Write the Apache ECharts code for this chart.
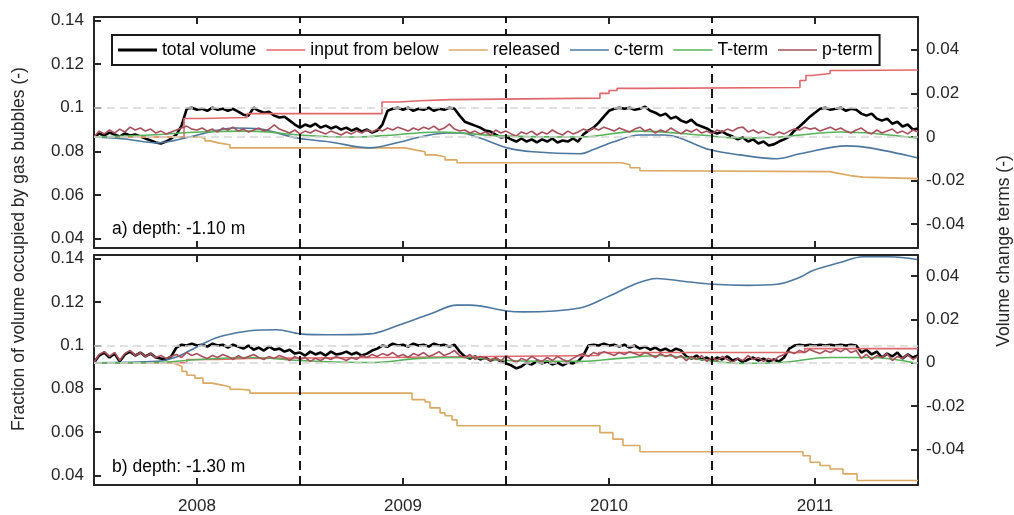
<!DOCTYPE html>
<html>
<head>
<meta charset="utf-8">
<script src="https://cdn.jsdelivr.net/npm/echarts@6/dist/echarts.min.js"></script>
<style>html,body{margin:0;padding:0;background:#fff;}#chart{width:1014px;height:515px;}</style>
</head>
<body>
<div id="chart"></div>
<script>
// ---------- data ----------
const seriesNames = ['total volume', 'input from below', 'released', 'c-term', 'T-term', 'p-term'];
const yearTicks = [2008, 2009, 2010, 2011];
const leftTicks = [0.04, 0.06, 0.08, 0.1, 0.12, 0.14];
const rightTicks = [-0.04, -0.02, 0, 0.02, 0.04];
const markYears = [2008.5, 2009.5, 2010.5];
const sampleStart = 2007.5, sampleStep = 0.025;

// panel a) depth -1.10 m
const totalTop = [0.0864,0.0882,0.0873,0.0886,0.0877,0.0868,0.0882,0.0873,0.0877,0.0868,
0.0859,0.0850,0.0841,0.0836,0.0845,0.0859,0.0877,0.0918,0.0995,0.1000,
0.0991,0.0995,0.0986,0.1000,0.0991,0.0995,0.0986,0.0995,0.0982,0.0968,
0.0964,0.1000,0.0986,0.0977,0.0982,0.0964,0.0955,0.0959,0.0941,0.0923,
0.0909,0.0923,0.0914,0.0927,0.0909,0.0918,0.0905,0.0914,0.0900,0.0909,
0.0895,0.0905,0.0891,0.0900,0.0886,0.0895,0.0923,0.0986,0.0995,0.1000,
0.0991,0.1000,0.0986,0.0995,0.0991,0.1000,0.0986,0.0995,0.0991,0.1000,
0.0995,0.0964,0.0936,0.0927,0.0918,0.0909,0.0895,0.0891,0.0877,0.0864,
0.0868,0.0855,0.0845,0.0859,0.0845,0.0855,0.0841,0.0855,0.0845,0.0859,
0.0841,0.0850,0.0845,0.0859,0.0845,0.0877,0.0895,0.0909,0.0932,0.0959,
0.0986,0.0995,0.1000,0.0995,0.1000,0.0991,0.0995,0.1005,0.0986,0.0977,
0.0964,0.0973,0.0950,0.0959,0.0941,0.0932,0.0945,0.0923,0.0914,0.0905,
0.0891,0.0882,0.0891,0.0877,0.0868,0.0855,0.0864,0.0845,0.0855,0.0836,
0.0845,0.0827,0.0832,0.0845,0.0855,0.0868,0.0895,0.0914,0.0936,0.0959,
0.0977,0.0995,0.1000,0.0991,0.0995,0.1000,0.0986,0.0995,0.0991,0.0973,
0.0964,0.0973,0.0950,0.0941,0.0950,0.0927,0.0936,0.0914,0.0923,0.0900,
0.0905];
const pTop = [0.0000,0.0027,0.0014,0.0032,0.0018,0.0036,0.0023,0.0045,0.0032,0.0041,
0.0027,0.0036,0.0018,0.0027,0.0014,0.0023,0.0032,0.0041,0.0050,0.0036,
0.0032,0.0041,0.0027,0.0036,0.0023,0.0041,0.0032,0.0045,0.0027,0.0036,
0.0023,0.0032,0.0041,0.0027,0.0036,0.0055,0.0036,0.0027,0.0018,0.0032,
0.0014,0.0027,0.0018,0.0032,0.0023,0.0014,0.0027,0.0018,0.0009,0.0023,
0.0014,0.0027,0.0018,0.0032,0.0023,0.0036,0.0027,0.0041,0.0032,0.0045,
0.0036,0.0027,0.0041,0.0032,0.0045,0.0036,0.0050,0.0032,0.0041,0.0059,
0.0036,0.0027,0.0032,0.0018,0.0027,0.0014,0.0023,0.0009,0.0032,0.0018,
0.0027,0.0014,0.0005,0.0023,0.0014,0.0027,0.0009,0.0023,0.0014,0.0032,
0.0018,0.0009,0.0027,0.0014,0.0023,0.0036,0.0027,0.0041,0.0032,0.0045,
0.0036,0.0027,0.0041,0.0032,0.0023,0.0036,0.0045,0.0027,0.0036,0.0018,
0.0032,0.0023,0.0041,0.0027,0.0014,0.0032,0.0023,0.0036,0.0018,0.0027,
0.0014,0.0032,0.0023,0.0036,0.0027,0.0041,0.0045,0.0023,0.0032,0.0018,
0.0027,0.0014,0.0009,0.0023,0.0014,0.0027,0.0036,0.0032,0.0045,0.0036,
0.0041,0.0027,0.0036,0.0045,0.0032,0.0041,0.0027,0.0018,0.0032,0.0041,
0.0023,0.0014,0.0032,0.0018,0.0027,0.0036,0.0018,0.0027,0.0014,0.0032,
0.0023];
const inputTop = [[2007.5,0],[2007.937,0.0085],[2008.03,0.0087],[2008.126,0.0089],[2008.243,0.0107],
[2008.898,0.0160],[2008.98,0.0166],[2009.083,0.0171],[2009.228,0.0178],[2009.956,0.0200],
[2010.0,0.0213],[2010.039,0.0223],[2010.15,0.0227],[2010.927,0.0259],[2010.956,0.0282],
[2010.985,0.0291],[2011.073,0.0305],[2011.17,0.0307],[2011.5,0.0309]];
const releasedTop = [[2007.5,0],[2008.015,-0.0007],[2008.039,-0.0018],[2008.063,-0.0027],[2008.102,-0.0036],
[2008.160,-0.0050],[2009.010,-0.0059],[2009.058,-0.0068],[2009.107,-0.0082],[2009.155,-0.0091],
[2009.204,-0.0105],[2009.262,-0.0118],[2010.063,-0.0127],[2010.102,-0.0141],[2010.150,-0.0155],
[2010.199,-0.0159],[2011.073,-0.0168],[2011.121,-0.0177],[2011.170,-0.0184],[2011.233,-0.0191],[2011.5,-0.0191]];
const cTop = [[2007.5,0],[2007.65,-0.0009],[2007.806,-0.0027],[2007.942,-0.0005],[2008.063,0.0023],
[2008.175,0.0041],[2008.306,0.0036],[2008.485,-0.0005],[2008.646,-0.0023],[2008.84,-0.0050],
[2008.985,-0.0023],[2009.083,0.0000],[2009.214,0.0018],[2009.277,0.0018],[2009.374,-0.0005],
[2009.505,-0.0050],[2009.631,-0.0068],[2009.859,-0.0077],[2009.922,-0.0059],[2010.019,-0.0023],
[2010.15,0.0009],[2010.272,0.0009],[2010.49,-0.0059],[2010.636,-0.0082],[2010.816,-0.0100],
[2010.927,-0.0077],[2011.155,-0.0041],[2011.267,-0.0050],[2011.495,-0.0095]];
const tTop = [[2007.5,0],[2007.772,0.0009],[2008.015,0.0023],[2008.257,0.0027],[2008.5,0.0009],
[2008.743,0],[2008.888,0.0005],[2009.180,0.0023],[2009.471,0.0005],[2009.859,0],
[2010.15,0.0027],[2010.442,0.0009],[2010.636,-0.0005],[2010.83,0],[2011.121,0.0023],[2011.495,-0.0005]];

// panel b) depth -1.30 m
const totalBottom = [0.0920,0.0953,0.0967,0.0944,0.0962,0.0926,0.0958,0.0971,0.0953,0.0967,
0.0949,0.0962,0.0944,0.0939,0.0935,0.0949,0.0990,0.1003,0.0999,0.1008,
0.0999,0.1003,0.0994,0.1008,0.0999,0.1003,0.0990,0.1003,0.0994,0.0985,
0.0999,0.0980,0.0990,0.0976,0.0994,0.0980,0.0985,0.0971,0.0980,0.0962,
0.0967,0.0953,0.0971,0.0958,0.0967,0.0953,0.0971,0.0958,0.0962,0.0971,
0.0958,0.0967,0.0953,0.0962,0.0976,0.0985,0.0999,0.0994,0.1008,0.0999,
0.1003,0.0994,0.1008,0.0999,0.1003,0.0994,0.1008,0.0999,0.1003,0.0994,
0.1003,0.0971,0.0949,0.0939,0.0949,0.0935,0.0944,0.0930,0.0939,0.0926,
0.0917,0.0908,0.0894,0.0903,0.0921,0.0912,0.0926,0.0917,0.0926,0.0912,
0.0921,0.0908,0.0921,0.0917,0.0926,0.0953,0.0999,0.1003,0.0999,0.1008,
0.0999,0.1003,0.0994,0.1003,0.0990,0.0999,0.0985,0.0994,0.0980,0.0990,
0.0976,0.0985,0.0971,0.0985,0.0976,0.0949,0.0939,0.0953,0.0935,0.0944,
0.0930,0.0944,0.0935,0.0949,0.0930,0.0939,0.0921,0.0935,0.0944,0.0930,
0.0939,0.0926,0.0935,0.0926,0.0944,0.0985,0.0999,0.1003,0.0999,0.1003,
0.0999,0.1003,0.0999,0.1003,0.0999,0.1003,0.0999,0.1003,0.0999,0.0967,
0.0980,0.0958,0.0971,0.0944,0.0962,0.0949,0.0967,0.0939,0.0958,0.0944,
0.0953];
const pBottom = [0.0001,0.0038,0.0051,0.0029,0.0047,0.0010,0.0042,0.0056,0.0033,0.0047,
0.0029,0.0042,0.0024,0.0033,0.0020,0.0029,0.0038,0.0024,0.0047,0.0033,
0.0042,0.0029,0.0020,0.0033,0.0024,0.0038,0.0029,0.0015,0.0033,0.0020,
0.0029,0.0038,0.0024,0.0015,0.0029,0.0020,0.0033,0.0024,0.0010,0.0029,
0.0015,0.0024,0.0006,0.0020,0.0010,0.0024,0.0015,0.0029,0.0020,0.0010,
0.0024,0.0015,0.0033,0.0024,0.0038,0.0029,0.0042,0.0033,0.0047,0.0029,
0.0038,0.0024,0.0042,0.0033,0.0047,0.0029,0.0038,0.0051,0.0033,0.0042,
0.0056,0.0033,0.0024,0.0038,0.0015,0.0029,0.0020,0.0010,0.0024,0.0006,
0.0033,0.0015,0.0001,0.0020,0.0010,0.0029,0.0015,0.0006,0.0024,0.0010,
0.0029,0.0015,0.0006,0.0020,0.0033,0.0042,0.0029,0.0047,0.0038,0.0051,
0.0042,0.0033,0.0047,0.0038,0.0051,0.0042,0.0033,0.0047,0.0038,0.0024,
0.0042,0.0029,0.0038,0.0020,0.0033,0.0010,0.0029,0.0015,0.0033,0.0006,
0.0024,0.0010,0.0029,0.0015,0.0001,0.0020,0.0010,0.0033,0.0015,0.0024,
0.0006,0.0020,0.0010,0.0029,0.0038,0.0051,0.0042,0.0056,0.0047,0.0061,
0.0051,0.0042,0.0056,0.0047,0.0061,0.0051,0.0065,0.0047,0.0056,0.0020,
0.0038,0.0015,0.0033,0.0024,0.0042,0.0010,0.0029,0.0020,0.0038,0.0015,
0.0029];
const inputBottom = [[2007.5,0],[2007.95,0.0015],[2008.1,0.0020],[2008.25,0.0024],[2008.9,0.0033],
[2009.95,0.0047],[2010.95,0.0065],[2011.5,0.0065]];
const releasedBottom = [[2007.5,0],[2007.879,-0.0008],[2007.903,-0.0017],[2007.927,-0.0040],[2007.951,-0.0058],
[2007.990,-0.0071],[2008.029,-0.0094],[2008.073,-0.0103],[2008.121,-0.0112],[2008.160,-0.0122],
[2008.209,-0.0126],[2008.257,-0.0140],[2009.044,-0.0170],[2009.107,-0.0181],[2009.131,-0.0208],
[2009.180,-0.0231],[2009.204,-0.0244],[2009.238,-0.0263],[2009.262,-0.0290],[2009.956,-0.0322],
[2010.019,-0.0352],[2010.068,-0.0381],[2010.150,-0.0410],[2010.942,-0.0428],[2010.976,-0.0458],
[2011.024,-0.0473],[2011.073,-0.0489],[2011.136,-0.0512],[2011.204,-0.0542],[2011.5,-0.0542]];
const cBottom = [[2007.5,0],[2007.806,0.0006],[2007.893,0.0024],[2007.966,0.0056],[2008.049,0.0097],
[2008.126,0.0124],[2008.257,0.0147],[2008.388,0.0152],[2008.5,0.0133],[2008.646,0.0129],
[2008.84,0.0133],[2008.971,0.0170],[2009.131,0.0224],[2009.262,0.0265],[2009.325,0.0265],
[2009.505,0.0238],[2009.583,0.0234],[2009.859,0.0252],[2009.99,0.0302],[2010.136,0.0366],
[2010.233,0.0388],[2010.359,0.0375],[2010.505,0.0361],[2010.67,0.0356],[2010.816,0.0361],
[2010.927,0.0393],[2010.99,0.0425],[2011.121,0.0461],[2011.233,0.0488],[2011.364,0.0488],[2011.495,0.0475]];
const tBottom = [[2007.5,0],[2007.772,0],[2008.015,0.0015],[2008.257,0.0024],[2008.5,0.0010],
[2008.84,0.0001],[2009.083,0.0020],[2009.277,0.0024],[2009.505,0.0010],[2009.859,0.0006],
[2010.053,0.0020],[2010.248,0.0033],[2010.442,0.0015],[2010.636,-0.0003],[2010.83,0.0001],
[2011.073,0.0024],[2011.267,0.0024],[2011.495,-0.0003]];

// axis extents (left: fraction, right: change terms)
const leftExtent = [0.0357, 0.1416];
const rightExtentTop = [-0.0509, 0.0550];
const rightExtentBottom = [-0.0563, 0.0496];

// ---------- chart ----------
const FONT = '"Liberation Sans", Arial, Helvetica, sans-serif';
const AX = '#262626';
const COLORS = {total:'#000000', input:'#e0686d', released:'#dca862', c:'#4d77a0', T:'#58b358', p:'#a84f5b'};
const ICON_THICK = 'path://M0,0H40V3H0Z';
const ICON_THIN = 'path://M0,0H40V1.6H0Z';
const times = totalTop.map((_, i) => +(sampleStart + i * sampleStep).toFixed(3));
const pairs = arr => arr.map((v, i) => [times[i], v]);

function xAx(grid, pos, showLabel) {
  return {
    type: 'value', gridIndex: grid, position: pos, min: 2007.5, max: 2011.5,
    axisLine: {show: true, onZero: false, lineStyle: {color: AX, width: 2}},
    axisTick: {show: true, inside: true, length: 7, customValues: yearTicks, lineStyle: {color: AX, width: 2}},
    axisLabel: {show: showLabel, customValues: yearTicks, margin: 13, color: AX, fontSize: 17, fontFamily: FONT,
      formatter: v => String(v)},
    splitLine: {show: false}
  };
}
function yAx(grid, pos, ext, ticks, margin) {
  return {
    type: 'value', gridIndex: grid, position: pos, min: ext[0], max: ext[1],
    axisLine: {show: true, onZero: false, lineStyle: {color: AX, width: 2}},
    axisTick: {show: true, inside: true, length: 7, customValues: ticks, lineStyle: {color: AX, width: 2}},
    axisLabel: {show: true, customValues: ticks, margin: margin, color: AX, fontSize: 17, fontFamily: FONT,
      formatter: v => String(+v.toFixed(4))},
    splitLine: {show: false}
  };
}

const grayLine = {color: '#d6d6d6', width: 1.5, type: [8, 5]};
const blackDash = {color: '#000', width: 1.8, type: [9, 6]};

function panelSeries(g, total, input, released, c, T, p) {
  const xi = g * 2, yl = g * 2, yr = g * 2 + 1;
  const base = {type: 'line', showSymbol: false, symbol: 'none', xAxisIndex: xi, silent: true, z: 3, animation: false};
  return [
    {type: 'line', data: [], xAxisIndex: xi, yAxisIndex: yl, z: 1, silent: true, animation: false,
      markLine: {symbol: 'none', silent: true, animation: false, label: {show: false}, lineStyle: grayLine,
        data: [{yAxis: 0.1}]}},
    {type: 'line', data: [], xAxisIndex: xi, yAxisIndex: yr, z: 1, silent: true, animation: false,
      markLine: {symbol: 'none', silent: true, animation: false, label: {show: false}, lineStyle: grayLine,
        data: [{yAxis: 0}]}},
    Object.assign({}, base, {name: seriesNames[0], yAxisIndex: yl, data: pairs(total),
      lineStyle: {color: COLORS.total, width: 2.6}, itemStyle: {color: COLORS.total}}),
    Object.assign({}, base, {name: seriesNames[1], yAxisIndex: yr, data: input, step: 'end',
      lineStyle: {color: COLORS.input, width: 1.6}, itemStyle: {color: COLORS.input}}),
    Object.assign({}, base, {name: seriesNames[2], yAxisIndex: yr, data: released, step: 'end',
      lineStyle: {color: COLORS.released, width: 1.6}, itemStyle: {color: COLORS.released}}),
    Object.assign({}, base, {name: seriesNames[3], yAxisIndex: yr, data: c, smooth: 0.35,
      lineStyle: {color: COLORS.c, width: 1.6}, itemStyle: {color: COLORS.c}}),
    Object.assign({}, base, {name: seriesNames[4], yAxisIndex: yr, data: T, smooth: 0.4,
      lineStyle: {color: COLORS.T, width: 1.6}, itemStyle: {color: COLORS.T}}),
    Object.assign({}, base, {name: seriesNames[5], yAxisIndex: yr, data: pairs(p),
      lineStyle: {color: COLORS.p, width: 1.6}, itemStyle: {color: COLORS.p}}),
    {type: 'line', data: [], xAxisIndex: xi, yAxisIndex: yr, z: 6, silent: true, animation: false,
      markLine: {symbol: 'none', silent: true, animation: false, label: {show: false}, lineStyle: blackDash,
        data: markYears.map(v => ({xAxis: v}))}}
  ];
}

const chart = echarts.init(document.getElementById('chart'), null, {renderer: 'canvas'});
chart.setOption({
  backgroundColor: '#ffffff',
  animation: false,
  textStyle: {fontFamily: FONT},
  grid: [
    {left: 94, right: 96, top: 17, height: 231},
    {left: 94, right: 96, top: 255, height: 231}
  ],
  xAxis: [xAx(0, 'bottom', false), xAx(0, 'top', false), xAx(1, 'bottom', true), xAx(1, 'top', false)],
  yAxis: [
    yAx(0, 'left', leftExtent, leftTicks, 10), yAx(0, 'right', rightExtentTop, rightTicks, 8),
    yAx(1, 'left', leftExtent, leftTicks, 10), yAx(1, 'right', rightExtentBottom, rightTicks, 8)
  ],
  legend: {
    data: seriesNames.map((n, i) => ({name: n, icon: i === 0 ? ICON_THICK : ICON_THIN})),
    left: 112, top: 35, orient: 'horizontal',
    padding: [6, 7, 6, 6], itemGap: 10, itemWidth: 39, itemHeight: 14, symbolKeepAspect: true,
    borderColor: '#1a1a1a', borderWidth: 2, backgroundColor: '#ffffff',
    textStyle: {fontSize: 17.5, color: '#000', fontFamily: FONT, lineHeight: 18},
    selectedMode: false, z: 10
  },
  graphic: [
    {type: 'text', x: 112, y: 229, z: 10, style: {text: 'a) depth: -1.10 m', fontSize: 17.5, fontFamily: FONT, fill: '#000', textVerticalAlign: 'middle'}},
    {type: 'text', x: 112, y: 467, z: 10, style: {text: 'b) depth: -1.30 m', fontSize: 17.5, fontFamily: FONT, fill: '#000', textVerticalAlign: 'middle'}},
    {type: 'text', x: 19, y: 249, rotation: Math.PI / 2, style: {text: 'Fraction of volume occupied by gas bubbles (-)', fontSize: 17.5, fontFamily: FONT, fill: AX, textAlign: 'center', textVerticalAlign: 'middle'}},
    {type: 'text', x: 1004, y: 251, rotation: Math.PI / 2, style: {text: 'Volume change terms (-)', fontSize: 17.5, fontFamily: FONT, fill: AX, textAlign: 'center', textVerticalAlign: 'middle'}}
  ],
  series: [].concat(
    panelSeries(0, totalTop, inputTop, releasedTop, cTop, tTop, pTop),
    panelSeries(1, totalBottom, inputBottom, releasedBottom, cBottom, tBottom, pBottom)
  )
});
</script>
</body>
</html>
